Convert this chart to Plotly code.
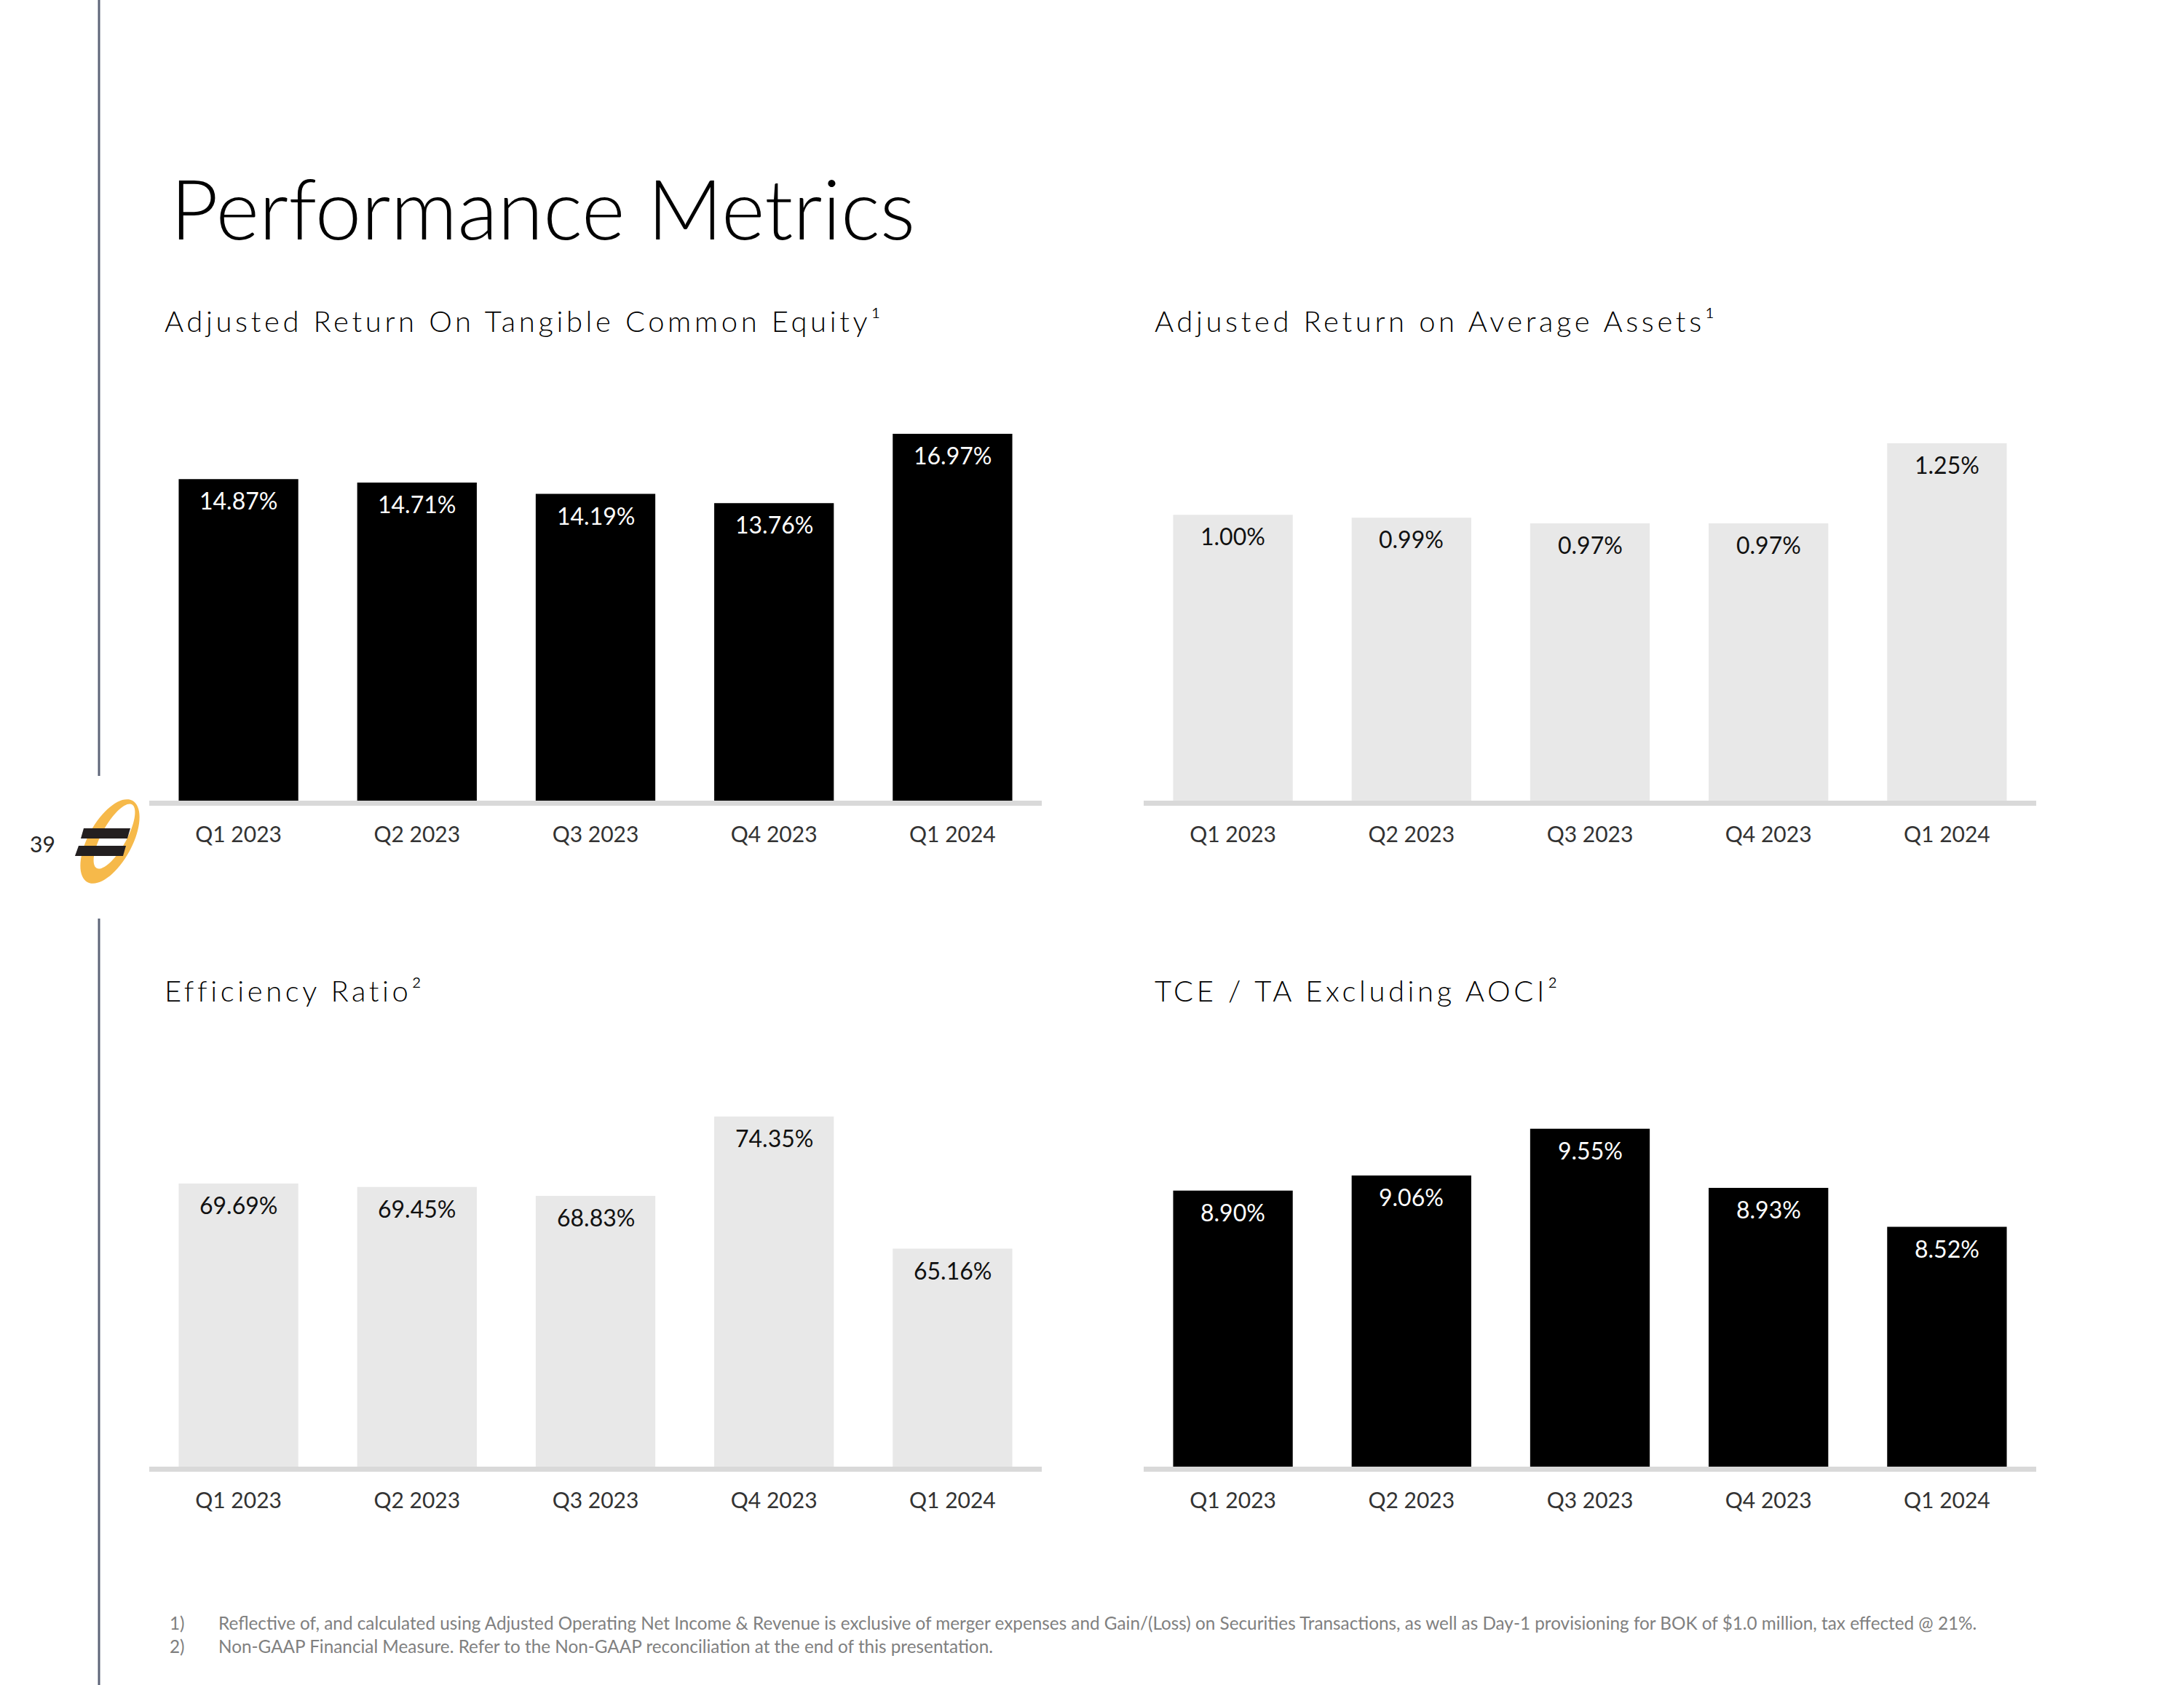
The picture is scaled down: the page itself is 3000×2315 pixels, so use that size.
import math
import plotly.graph_objects as go

W, H = 3000, 2315
FONT = "Lato"

# ---------------- data ----------------
quarters = ["Q1 2023", "Q2 2023", "Q3 2023", "Q4 2023", "Q1 2024"]
rotce = [14.87, 14.71, 14.19, 13.76, 16.97]
roaa = [1.00, 0.99, 0.97, 0.97, 1.25]
efficiency = [69.69, 69.45, 68.83, 74.35, 65.16]
tce_ta = [8.90, 9.06, 9.55, 8.93, 8.52]

chart_titles = [
    "Adjusted Return On Tangible Common Equity¹",
    "Adjusted Return on Average Assets¹",
    "Efficiency Ratio²",
    "TCE / TA Excluding AOCI²",
]
page_title = "Performance Metrics"
footnotes = [
    ("1)", "Reflective of, and calculated using Adjusted Operating Net Income & Revenue is exclusive of merger "
           "expenses and Gain/(Loss) on Securities Transactions, as well as Day-1 provisioning for BOK of $1.0 "
           "million, tax effected @ 21%."),
    ("2)", "Non-GAAP Financial Measure. Refer to the Non-GAAP reconciliation at the end of this presentation."),
]
page_number = "39"

BLACK = "#000000"
LIGHT = "#e8e8e8"
AXIS = "#d9d9d9"
TICK = "#333333"


def px(x):
    return x / W


def py(y):
    return 1 - y / H


# panel layout (pixel boxes) and axis ranges
panels = [
    dict(values=rotce, color=BLACK, label="#ffffff", x0=205, x1=1431, top=560, base=1100,
         yr=[0, 18.18], title=chart_titles[0], tx=224, tb=456),
    dict(values=roaa, color=LIGHT, label="#111111", x0=1571, x1=2797, top=560, base=1100,
         yr=[0, 1.375], title=chart_titles[1], tx=1584, tb=456),
    dict(values=efficiency, color=LIGHT, label="#111111", x0=205, x1=1431, top=1475, base=2015,
         yr=[50, 77.34], title=chart_titles[2], tx=224, tb=1376),
    dict(values=tce_ta, color=BLACK, label="#ffffff", x0=1571, x1=2797, top=1475, base=2015,
         yr=[6, 10.13], title=chart_titles[3], tx=1584, tb=1376),
]

fig = go.Figure()
annotations = []
shapes = []
layout = dict(
    width=W, height=H,
    margin=dict(l=0, r=0, t=0, b=0),
    paper_bgcolor="white", plot_bgcolor="white",
    showlegend=False,
    bargap=0.33,
    font=dict(family=FONT, color="#262626"),
)


def center_from_baseline(base, fs):
    return base - 0.387 * fs


for i, p in enumerate(panels, start=1):
    xa = "x" if i == 1 else f"x{i}"
    ya = "y" if i == 1 else f"y{i}"
    fig.add_trace(go.Bar(
        x=quarters, y=p["values"],
        marker=dict(color=p["color"], line=dict(width=0)),
        xaxis=xa, yaxis=ya, hoverinfo="skip",
    ))
    layout["xaxis" if i == 1 else f"xaxis{i}"] = dict(
        domain=[px(p["x0"]), px(p["x1"])], anchor=ya,
        type="category", range=[-0.5, 4.5],
        showline=True, linecolor=AXIS, linewidth=7,
        showgrid=False, zeroline=False, ticks="",
        tickfont=dict(family=FONT, size=30, color=TICK),
        ticklabelstandoff=14, fixedrange=True,
    )
    layout["yaxis" if i == 1 else f"yaxis{i}"] = dict(
        domain=[py(p["base"]), py(p["top"])], anchor=xa,
        range=p["yr"], visible=False, showgrid=False, zeroline=False, fixedrange=True,
    )
    # value labels inside the bar tops
    for q, v in zip(quarters, p["values"]):
        annotations.append(dict(
            x=q, y=v, xref=xa, yref=ya, text=f"{v:.2f}%", showarrow=False,
            yanchor="top", xanchor="center", yshift=-8,
            font=dict(family=FONT, size=32, color=p["label"]),
        ))
    # chart title
    annotations.append(dict(
        x=px(p["tx"]), y=py(center_from_baseline(p["tb"], 40)), xref="paper", yref="paper",
        xanchor="left", yanchor="middle", showarrow=False,
        text=f'<span style="letter-spacing:4.6px">{p["title"]}</span>',
        font=dict(family=FONT, size=40, color="#000000", weight=300),
    ))

# page title
annotations.append(dict(
    x=px(232), y=py(center_from_baseline(329, 114)), xref="paper", yref="paper",
    xanchor="left", yanchor="middle", showarrow=False, text=page_title,
    font=dict(family=FONT, size=114, color="#000000", weight=300),
))

# footnotes
for k, (num, txt) in enumerate(footnotes):
    yb = 2239 + 32 * k
    yc = py(center_from_baseline(yb, 24.3))
    annotations.append(dict(x=px(231), y=yc, xref="paper", yref="paper", xanchor="left",
                            yanchor="middle", showarrow=False, text=num,
                            font=dict(family=FONT, size=24.3, color="#808080")))
    annotations.append(dict(x=px(298), y=yc, xref="paper", yref="paper", xanchor="left",
                            yanchor="middle", showarrow=False, text=txt,
                            font=dict(family=FONT, size=24.3, color="#808080")))

# page number
annotations.append(dict(x=px(58), y=py(1159), xref="paper", yref="paper", xanchor="center",
                        yanchor="middle", showarrow=False, text=page_number,
                        font=dict(family=FONT, size=30, color="#262626")))

# left vertical rule (two segments around the logo)
for (ya_, yb_) in [(0, 1066), (1262, H)]:
    shapes.append(dict(type="line", xref="paper", yref="paper", x0=px(136), x1=px(136),
                       y0=py(ya_), y1=py(yb_), line=dict(color="#5d6478", width=3)))


# logo: orange crescent ellipse + two black slanted bars
def ellipse_pts(cx, cy, a, b, theta_deg, n=72):
    th = math.radians(theta_deg)
    ux, uy = math.cos(th), -math.sin(th)
    vx, vy = math.sin(th), math.cos(th)
    pts = []
    for j in range(n):
        t = 2 * math.pi * j / n
        x = cx + a * math.cos(t) * ux + b * math.sin(t) * vx
        y = cy + a * math.cos(t) * uy + b * math.sin(t) * vy
        pts.append((x, y))
    return pts


def path_from(pts):
    return "M " + " L ".join(f"{px(x):.5f},{py(y):.5f}" for x, y in pts) + " Z"


outer = ellipse_pts(151, 1156, 64, 30, 61)
inner = ellipse_pts(157, 1149, 50, 17, 61)
shapes.append(dict(type="path", xref="paper", yref="paper",
                   path=path_from(outer) + " " + path_from(inner),
                   fillcolor="#f6b94a", line=dict(width=0), fillrule="evenodd"))
for bar in [[(115, 1138), (179, 1138), (175, 1152), (111, 1152)],
            [(108, 1162), (173, 1162), (169, 1176), (103, 1176)]]:
    shapes.append(dict(type="path", xref="paper", yref="paper", path=path_from(bar),
                       fillcolor="#231f20", line=dict(width=0)))

layout["annotations"] = annotations
layout["shapes"] = shapes
fig.update_layout(**layout)
fig.write_html("out.html", config={"displayModeBar": False},
               post_script="document.body.style.margin='0';")
